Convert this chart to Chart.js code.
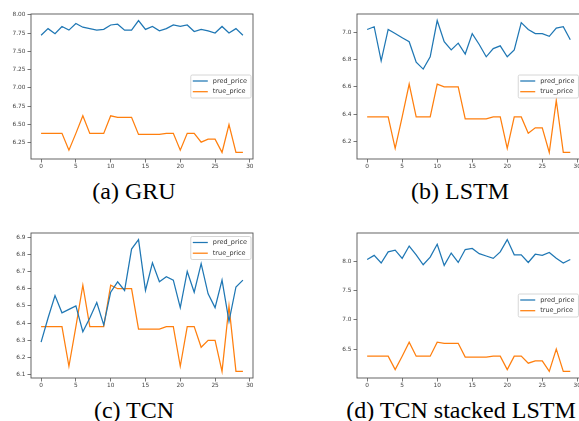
<!DOCTYPE html>
<html>
<head>
<meta charset="utf-8">
<script src="https://cdn.jsdelivr.net/npm/chart.js@4"></script>
<style>
  html, body { margin: 0; padding: 0; background: #fff; }
  body { width: 579px; height: 421px; position: relative; overflow: hidden; }
  .panel { position: absolute; }
  .caption {
    position: absolute;
    font-family: "Liberation Serif", "Times New Roman", serif;
    font-size: 24px;
    line-height: 24px;
    color: #000;
    white-space: nowrap;
    transform: translateX(-50%);
  }
</style>
</head>
<body>
<div class="panel" style="left:0;top:0"><canvas id="gruChart" width="265" height="172"></canvas></div>
<div class="panel" style="left:326px;top:0"><canvas id="lstmChart" width="256" height="172"></canvas></div>
<div class="panel" style="left:0;top:219px"><canvas id="tcnChart" width="265" height="172"></canvas></div>
<div class="panel" style="left:326px;top:219px"><canvas id="stackedChart" width="256" height="172"></canvas></div>

<div class="caption" style="left:134px;top:179px">(a) GRU</div>
<div class="caption" style="left:460px;top:179px">(b) LSTM</div>
<div class="caption" style="left:134px;top:398px">(c) TCN</div>
<div class="caption" style="left:461px;top:398px">(d) TCN stacked LSTM</div>

<script>
// time steps on the x axis
const steps = [0, 1, 2, 3, 4, 5, 6, 7, 8, 9, 10, 11, 12, 13, 14, 15, 16, 17, 18, 19, 20, 21, 22, 23, 24, 25, 26, 27, 28, 29];

// actual price (same in every panel)
const truePrice = [6.38, 6.38, 6.38, 6.38, 6.15, 6.38, 6.62, 6.38, 6.38, 6.38, 6.62, 6.60, 6.60, 6.60, 6.365, 6.365, 6.365, 6.365, 6.38, 6.38, 6.15, 6.38, 6.38, 6.26, 6.30, 6.30, 6.12, 6.50, 6.12, 6.12];

// predictions for each model
const gruPred = [7.72, 7.81, 7.74, 7.84, 7.79, 7.88, 7.83, 7.81, 7.79, 7.80, 7.86, 7.87, 7.79, 7.79, 7.92, 7.80, 7.84, 7.78, 7.81, 7.86, 7.84, 7.86, 7.77, 7.80, 7.78, 7.75, 7.84, 7.75, 7.81, 7.72];
const lstmPred = [7.02, 7.04, 6.79, 7.02, 6.99, 6.96, 6.93, 6.78, 6.73, 6.82, 7.085, 6.93, 6.87, 6.92, 6.84, 6.99, 6.91, 6.82, 6.88, 6.90, 6.82, 6.87, 7.07, 7.02, 6.99, 6.99, 6.97, 7.03, 7.04, 6.945];
const tcnPred = [6.29, 6.43, 6.56, 6.46, 6.48, 6.50, 6.35, 6.43, 6.52, 6.39, 6.58, 6.64, 6.59, 6.83, 6.885, 6.59, 6.75, 6.64, 6.67, 6.65, 6.49, 6.70, 6.58, 6.745, 6.57, 6.49, 6.65, 6.41, 6.61, 6.65];
const stackedPred = [8.03, 8.10, 7.97, 8.16, 8.19, 8.05, 8.26, 8.11, 7.94, 8.07, 8.29, 7.93, 8.14, 7.98, 8.20, 8.22, 8.13, 8.09, 8.05, 8.16, 8.37, 8.11, 8.11, 7.98, 8.12, 8.10, 8.15, 8.05, 7.97, 8.03];

// tick labels
const xTickLabels = ["0", "5", "10", "15", "20", "25", "30"];
const gruTickLabels = ["6.25", "6.50", "6.75", "7.00", "7.25", "7.50", "7.75", "8.00"];
const lstmTickLabels = ["6.2", "6.4", "6.6", "6.8", "7.0"];
const tcnTickLabels = ["6.1", "6.2", "6.3", "6.4", "6.5", "6.6", "6.7", "6.8", "6.9"];
const stackedTickLabels = ["6.5", "7.0", "7.5", "8.0"];

const BLUE = "#1f77b4";
const ORANGE = "#ff7f0e";
const TICK_FONT = { family: "DejaVu Sans", size: 5.8 };

// matplotlib-style box around the axes plus the legend inside it
const framePlugin = {
  id: "frame",
  afterDraw(chart, args, opts) {
    const ctx = chart.ctx;
    const a = chart.chartArea;
    ctx.save();
    ctx.strokeStyle = "#555";
    ctx.lineWidth = 0.9;
    ctx.strokeRect(a.left, a.top, a.right - a.left, a.bottom - a.top);

    ctx.font = '6.5px "DejaVu Sans"';
    const sets = chart.data.datasets;
    const textW = Math.max(...sets.map((d) => ctx.measureText(d.label).width));
    const w = 22 + textW + 4;
    const h = 23;
    const x = a.right - 2 - w;
    const y = opts.legend === "upper right" ? a.top + 3.5 : (a.top + a.bottom) / 2 - h / 2;

    ctx.fillStyle = "rgba(255,255,255,0.8)";
    ctx.strokeStyle = "#ccc";
    ctx.lineWidth = 0.8;
    ctx.beginPath();
    ctx.roundRect(x, y, w, h, 1.5);
    ctx.fill();
    ctx.stroke();

    sets.forEach((d, i) => {
      const cy = y + 6 + i * 10.7;
      ctx.strokeStyle = d.borderColor;
      ctx.lineWidth = 1.25;
      ctx.beginPath();
      ctx.moveTo(x + 2, cy);
      ctx.lineTo(x + 17, cy);
      ctx.stroke();
      ctx.fillStyle = "#333";
      ctx.textBaseline = "middle";
      ctx.fillText(d.label, x + 22, cy);
    });
    ctx.restore();
  },
};

function makeChart(id, pred, yLabels, legendPos, padRight) {
  const all = pred.concat(truePrice);
  const lo = Math.min(...all);
  const hi = Math.max(...all);
  const yPad = (hi - lo) * 0.05;
  const xPad = (steps[steps.length - 1] - steps[0]) * 0.05;

  const ctx = document.getElementById(id).getContext("2d");
  new Chart(ctx, {
    type: "line",
    data: {
      datasets: [
        {
          label: "pred_price",
          data: steps.map((s, i) => ({ x: s, y: pred[i] })),
          borderColor: BLUE,
          borderWidth: 1.25,
          pointRadius: 0,
          fill: false,
          tension: 0,
        },
        {
          label: "true_price",
          data: steps.map((s, i) => ({ x: s, y: truePrice[i] })),
          borderColor: ORANGE,
          borderWidth: 1.25,
          pointRadius: 0,
          fill: false,
          tension: 0,
        },
      ],
    },
    options: {
      responsive: false,
      animation: false,
      devicePixelRatio: 1,
      layout: { padding: { top: 14, right: padRight, bottom: 0, left: 0 } },
      plugins: {
        legend: { display: false },
        tooltip: { enabled: false },
        frame: { legend: legendPos },
      },
      scales: {
        x: {
          type: "linear",
          min: steps[0] - xPad,
          max: steps[steps.length - 1] + xPad,
          afterBuildTicks: (s) => {
            s.ticks = xTickLabels.map((t) => ({ value: Number(t) }));
          },
          afterFit: (s) => {
            s.height = 13;
          },
          grid: { drawOnChartArea: false, drawTicks: true, tickLength: 3.5, color: "#555", lineWidth: 0.8 },
          border: { display: false },
          ticks: {
            font: TICK_FONT,
            color: "#444",
            padding: 1,
            maxRotation: 0,
            autoSkip: false,
            callback: (v, i) => xTickLabels[i],
          },
        },
        y: {
          type: "linear",
          min: lo - yPad,
          max: hi + yPad,
          afterBuildTicks: (s) => {
            s.ticks = yLabels.map((t) => ({ value: Number(t) }));
          },
          afterFit: (s) => {
            s.width = 31;
          },
          grid: { drawOnChartArea: false, drawTicks: true, tickLength: 3.5, color: "#555", lineWidth: 0.8 },
          border: { display: false },
          ticks: {
            font: TICK_FONT,
            color: "#444",
            padding: 2,
            autoSkip: false,
            callback: (v, i) => yLabels[i],
          },
        },
      },
    },
    plugins: [framePlugin],
  });
}

makeChart("gruChart", gruPred, gruTickLabels, "center right", 12);
makeChart("lstmChart", lstmPred, lstmTickLabels, "center right", 1.5);
makeChart("tcnChart", tcnPred, tcnTickLabels, "upper right", 12);
makeChart("stackedChart", stackedPred, stackedTickLabels, "center right", 1.5);
</script>
</body>
</html>
